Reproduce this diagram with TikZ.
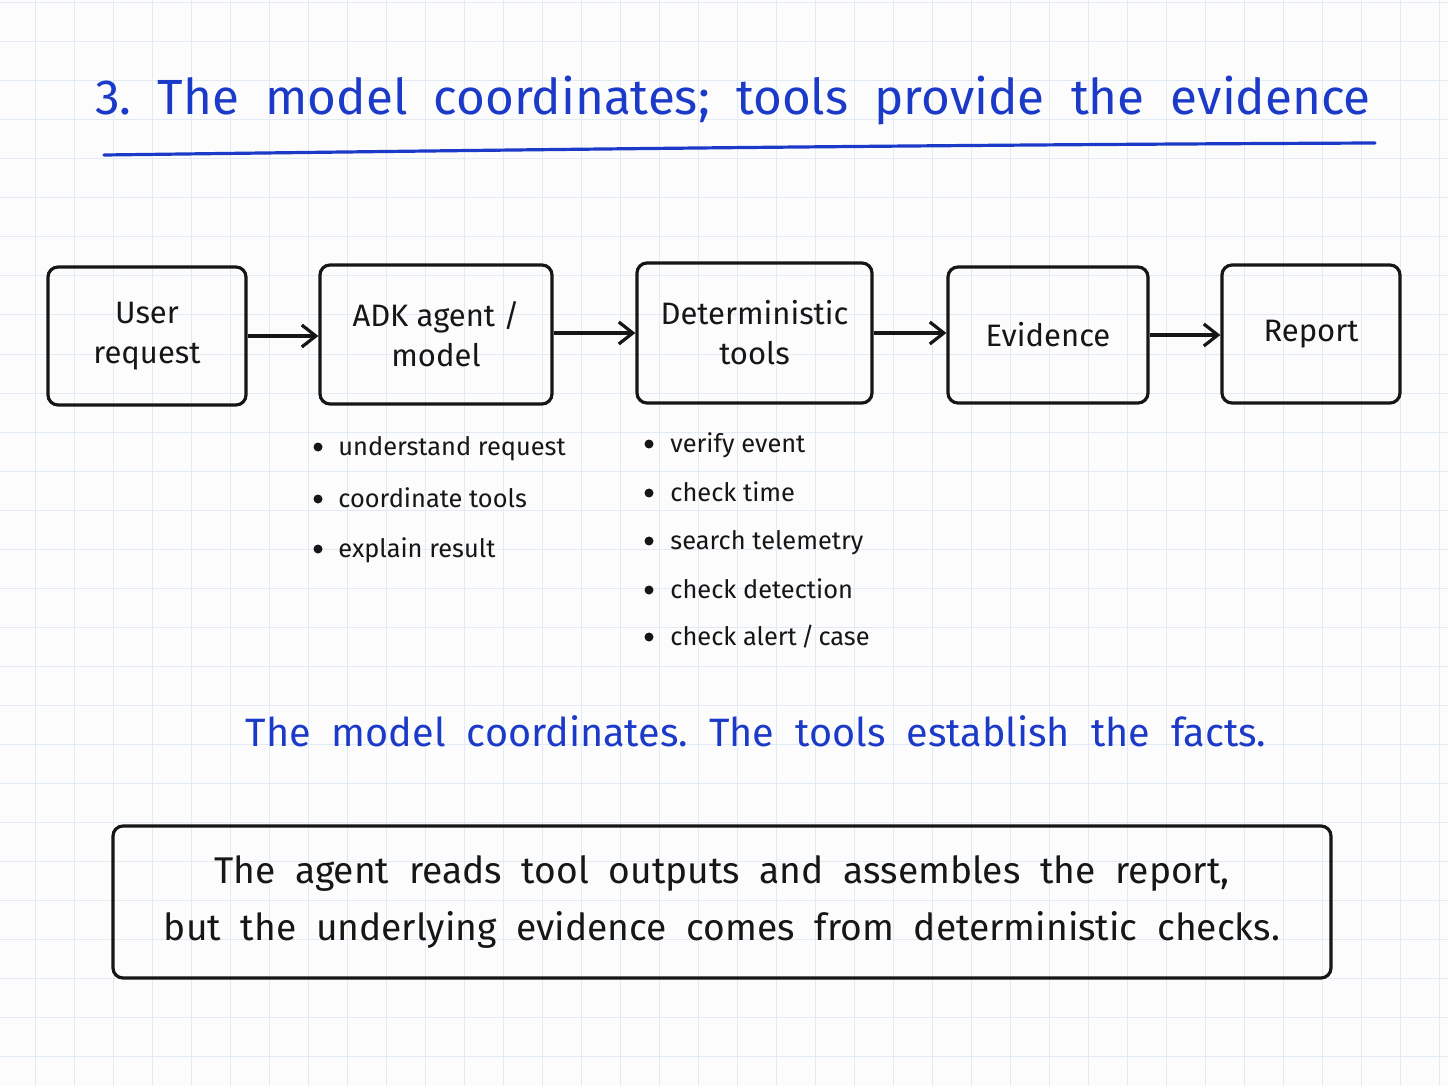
\documentclass[tikz,border=0pt]{standalone}
\usepackage{fontspec}
\setmainfont{Fira Sans}
\usetikzlibrary{arrows.meta}
\definecolor{ink}{RGB}{22,22,22}
\definecolor{penblue}{RGB}{28,58,200}
\definecolor{gridc}{RGB}{226,234,244}
\tikzset{
  box/.style={draw=ink, line width=1.6pt, rounded corners=5pt, inner sep=0pt},
  boxtxt/.style={font=\fontsize{15.5}{20}\selectfont, text=ink, align=center},
  flow/.style={draw=ink, line width=1.6pt, -{Straight Barb[length=7pt,width=11pt,line width=1.6pt]}},
  item/.style={font=\fontsize{12.7}{15}\selectfont, text=ink, anchor=mid west, inner sep=0pt, yshift=-1.5pt},
  dot/.style={circle, fill=ink, inner sep=0pt, minimum size=4.5pt},
}
\begin{document}
\begin{tikzpicture}[x=0.5pt,y=-0.5pt]
\useasboundingbox (0,0) rectangle (1448,1086);
\fill[white!98!gray] (0,0) rectangle (1448,1086);
\foreach \gx in {35,74,...,1448} \draw[gridc, line width=0.5pt] (\gx,0) -- (\gx,1086);
\foreach \gy in {3,42,...,1086} \draw[gridc, line width=0.5pt] (0,\gy) -- (1448,\gy);

% title
\node[font=\fontsize{24.7}{28}\selectfont, text=penblue, anchor=center] (title) at (733,100) {3.\ \ The\ \ model\ \ coordinates;\ \ tools\ \ provide\ \ the\ \ evidence};
\coordinate (ulA) at (104,155);
\coordinate (ulB) at (1375,143);
\draw[penblue, line width=1.6pt, line cap=round] (ulA) .. controls (500,150) and (900,145) .. (ulB);

% boxes
\node[box, minimum width=99pt, minimum height=69pt] (user) at (147,336) {};
\node[boxtxt] at (user.center) {User\\request};
\node[box, minimum width=116pt, minimum height=69.5pt] (adk) at (436,334.5) {};
\node[boxtxt] at (adk.center) {ADK agent /\\model};
\node[box, minimum width=117.5pt, minimum height=70pt] (det) at (754.5,333) {};
\node[boxtxt] at (det.center) {Deterministic\\tools};
\node[box, minimum width=100pt, minimum height=68pt] (evi) at (1048,335) {};
\node[boxtxt] at (evi.center) {Evidence};
\node[box, minimum width=89pt, minimum height=69pt] (rep) at (1311,334) {};
\node[boxtxt] at (rep.center) {Report};

\draw[flow] (user.east) -- (adk.west |- user.east);
\draw[flow] (adk.east |- det.east) -- (det.west);
\draw[flow] (det.east) -- (evi.west |- det.east);
\draw[flow] (evi.east) -- (rep.west |- evi.east);

% lists
\foreach \t/\yy [count=\i] in {{understand request}/447, {coordinate tools}/499, {explain result}/549} {
  \node[dot] (ad\i) at (318,\yy) {};
  \node[item] (at\i) at (338,\yy) {\t};
}
\foreach \t/\yy [count=\i] in {{verify event}/444, {check time}/493, {search telemetry}/541, {check detection}/590, {check alert\,/\,case}/637} {
  \node[dot] (dd\i) at (649,\yy) {};
  \node[item] (dt\i) at (670,\yy) {\t};
}

% subtitle
\node[font=\fontsize{19.8}{22}\selectfont, text=penblue] (sub) at (756,731) {The\ \ model\ \ coordinates.\ \ The\ \ tools\ \ establish\ \ the\ \ facts.};

% bottom box
\node[box, minimum width=609pt, minimum height=76pt] (note) at (722,902) {};
\node[font=\fontsize{18.6}{28.5}\selectfont, text=ink, align=center] (notetxt) at (note.center) {The\ \ agent\ \ reads\ \ tool\ \ outputs\ \ and\ \ assembles\ \ the\ \ report,\\but\ \ the\ \ underlying\ \ evidence\ \ comes\ \ from\ \ deterministic\ \ checks.};
\end{tikzpicture}
\end{document}
